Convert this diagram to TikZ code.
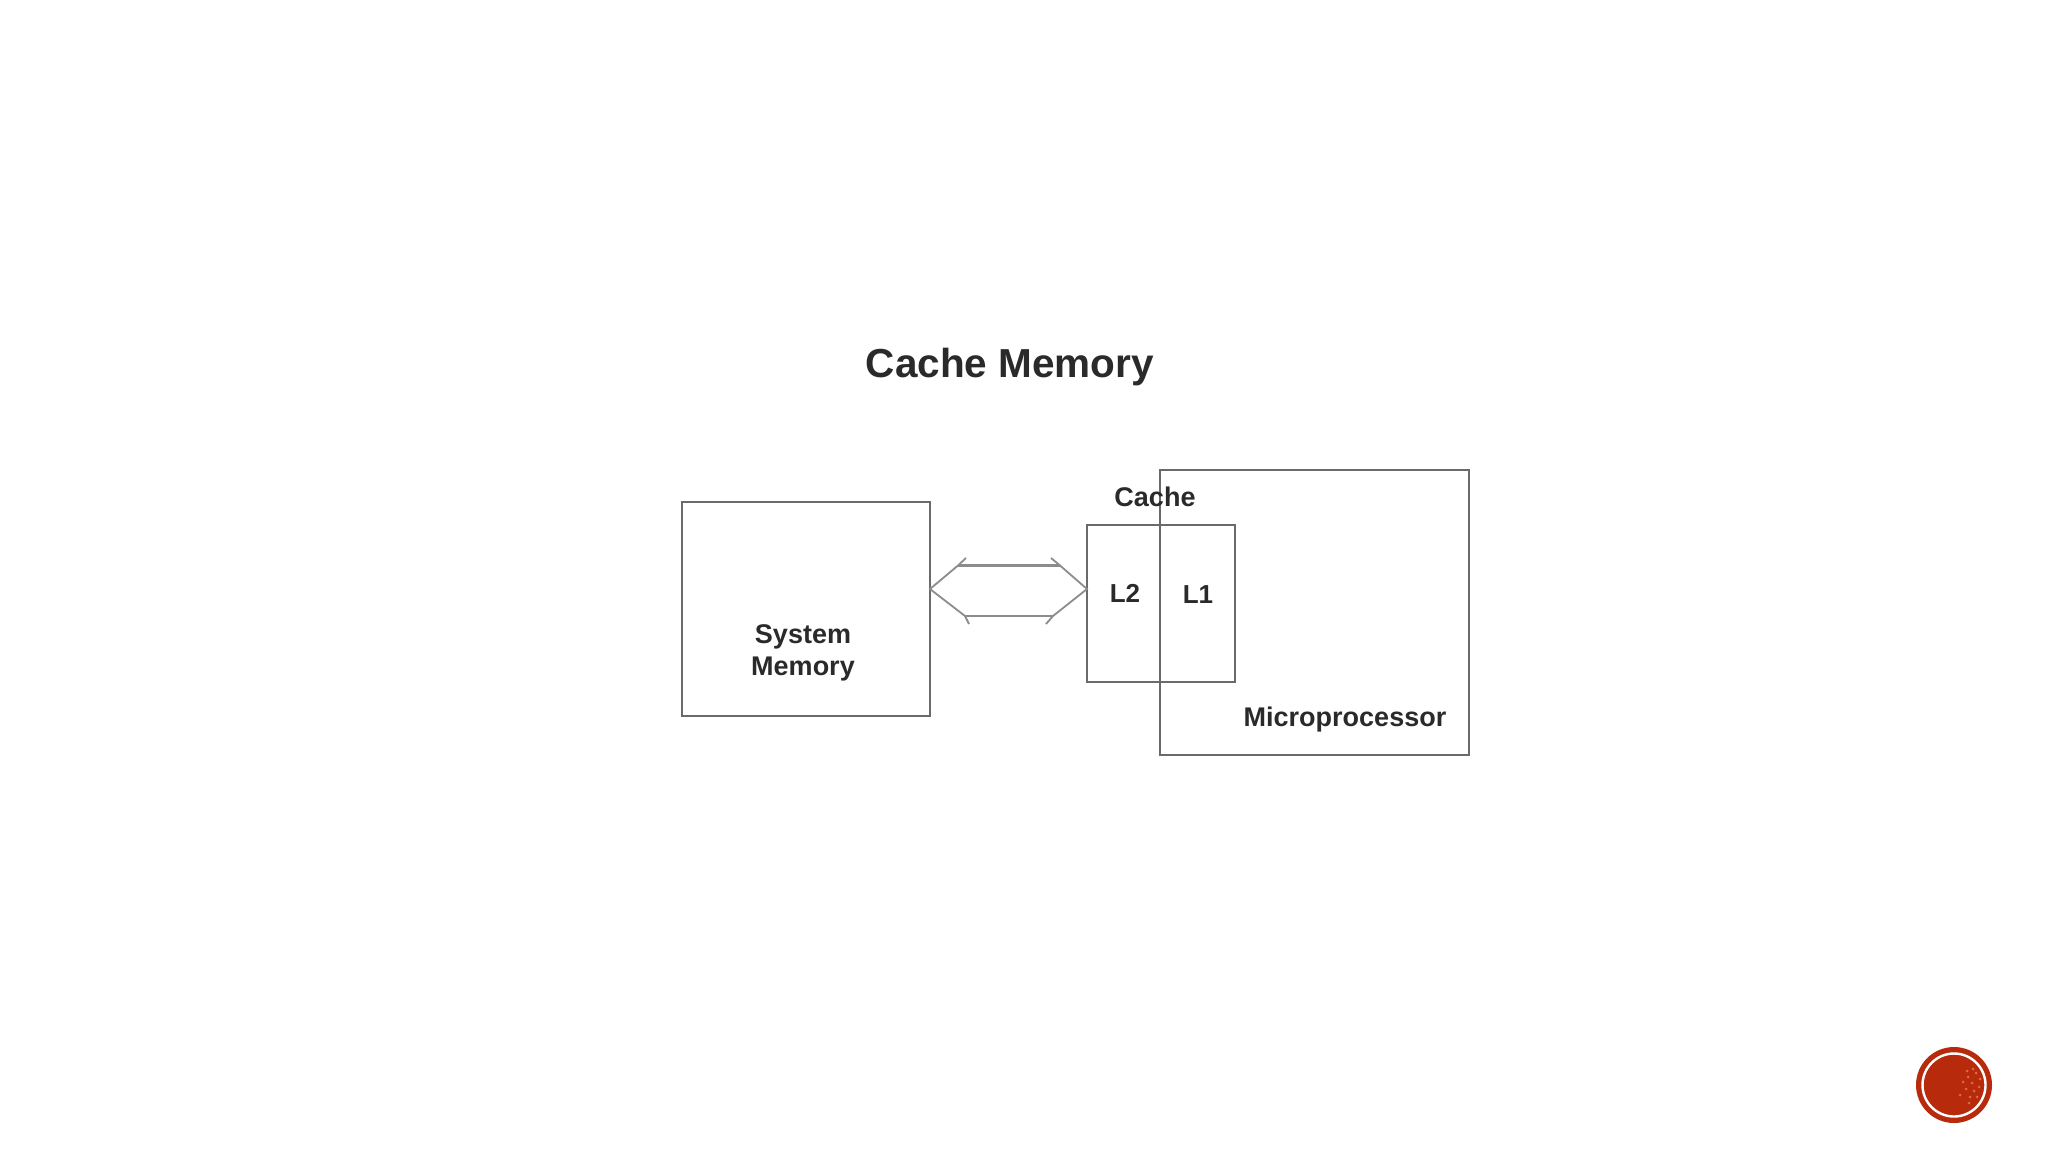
\documentclass[tikz,border=0pt]{standalone}
\usepackage{fontspec}
\usetikzlibrary{calc}
\setmainfont{Liberation Sans}
\definecolor{boxline}{HTML}{6A6A6A}
\definecolor{barline}{HTML}{8C8C8C}
\definecolor{ink}{HTML}{2A2A2A}
\definecolor{badge}{HTML}{B82A0C}
\definecolor{speck}{HTML}{DE6A40}
\tikzset{
  x=1pt,y=-1pt,
  blockbox/.style={draw=boxline,line width=2.6pt,fill=none,inner sep=0pt},
  lbl/.style={text=ink,font=\fontsize{26}{32}\selectfont\bfseries,align=center,inner sep=0pt},
  titlelbl/.style={text=ink,font=\fontsize{40.5}{48}\selectfont\bfseries,inner sep=0pt},
  busline/.style={draw=barline,line width=2.4pt},
  busedge/.style={draw=barline,line width=1.8pt},
  speckdot/.style={fill=speck,draw=none}
}
\begin{document}
\begin{tikzpicture}
\useasboundingbox (0,0) rectangle (2048,1152);
\fill[white] (0,0) rectangle (2048,1152);
\node[titlelbl] (title) at (1010,367.5) {Cache Memory};
% boxes
\coordinate (smA) at (682,502); \coordinate (smB) at (930,716);
\coordinate (mpA) at (1160,470); \coordinate (mpB) at (1469,755);
\coordinate (caA) at (1087,525); \coordinate (caB) at (1235,682);
\draw[blockbox] (smA) rectangle (smB);
\draw[blockbox] (mpA) rectangle (mpB);
\draw[blockbox] (caA) rectangle (caB);
% labels
\node[lbl,font=\fontsize{27}{32}\selectfont\bfseries] (sys) at (803,652.5) {System\\Memory};
\node[lbl,font=\fontsize{27}{32}\selectfont\bfseries] (cache) at (1155,497) {Cache};
\node[lbl] (l2) at (1125,593) {L2};
\node[lbl] (l1) at (1198,594.5) {L1};
\node[lbl,font=\fontsize{27}{32}\selectfont\bfseries] (micro) at (1345,720) {Microprocessor};
% double bus arrow
\coordinate (tipL) at (930,589);
\coordinate (tipR) at (1087,589);
\coordinate (tl) at (958,565.5); \coordinate (tr) at (1060,565.5);
\coordinate (bl) at (965,616);  \coordinate (br) at (1053,616);
\coordinate (tlb) at (966,558); \coordinate (trb) at (1051,558);
\coordinate (blb) at (969,624); \coordinate (brb) at (1046,624);
\draw[busline] (tl) -- (tr);
\draw[busline] (bl) -- (br);
\draw[busedge] (tlb) -- (tl) -- (tipL) -- (bl) -- (blb);
\draw[busedge] (trb) -- (tr) -- (tipR) -- (br) -- (brb);
% badge
\coordinate (bc) at (1954,1085);
\fill[badge] (bc) circle (38);
\draw[white,line width=2.4pt] (bc) circle (31.5);
\foreach \dx/\dy in {14/-8,18/-2,22/-12,12/4,20/6,25/2,16/12,23/12,9/-3,26/-6,19/-16,13/-14,6/10,15/18}
  \fill[speckdot] ($(bc)+(\dx,\dy)$) circle (1.5);
\end{tikzpicture}
\end{document}
